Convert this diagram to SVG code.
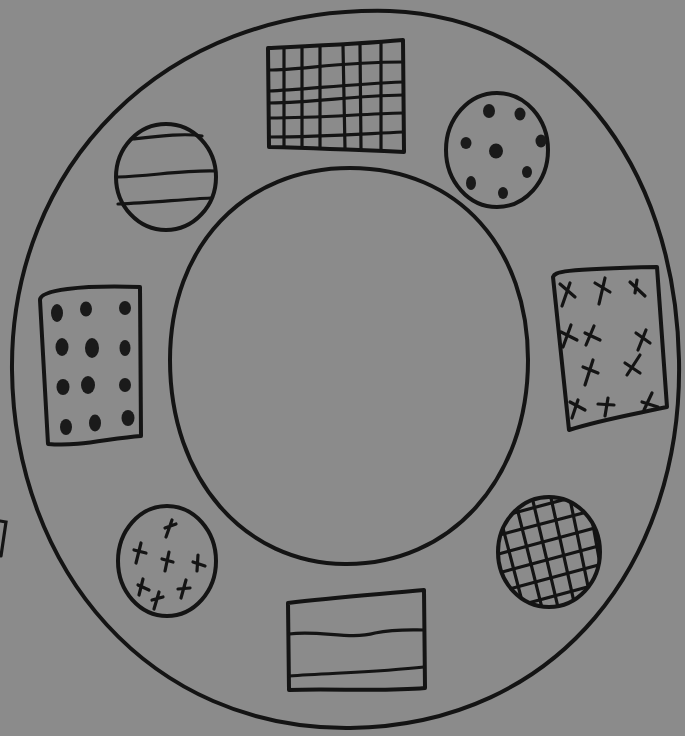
<svg xmlns="http://www.w3.org/2000/svg" width="685" height="736" viewBox="0 0 685 736">
<defs>
<style>
.s{fill:none;stroke:#141414;stroke-width:4;stroke-linecap:round;stroke-linejoin:round}
.t{fill:none;stroke:#141414;stroke-width:3.2;stroke-linecap:round}
.d{fill:#1a1a1a}
</style>
<clipPath id="cg"><ellipse cx="549" cy="552" rx="50" ry="54"/></clipPath>
</defs>
<rect width="685" height="736" fill="#8b8b8b"/>
<g id="ring">
<path class="s" d="M390,11 C560,18 675,160 679,360 C683,560 560,725 350,728 C150,730 14,570 12,370 C10,170 160,5 390,11 Z"/>
<path class="s" d="M350,168 C460,168 528,250 528,360 C528,480 450,565 345,564 C245,563 170,480 170,360 C170,245 245,168 350,168 Z"/>
</g>
<g id="grid-rect">
<path class="s" d="M268,48 C310,46 360,44 403,40 L404,152 C360,150 310,148 269,147 Z"/>
<path class="t" d="M284,49 L284,147 M302,48 L302,147 M320,47 L320,148 M343,46 L345,149 M360,45 L361,149 M381,43 L381,150"/>
<path class="t" d="M269,70 C300,70 340,62 403,62 M269,91 C300,90 350,84 403,82 M269,103 C320,102 350,96 403,95 M269,118 C320,118 360,114 403,113 M269,137 C320,137 360,134 403,132"/>
</g>
<g id="dot-circle">
<ellipse class="s" cx="497" cy="150" rx="51" ry="57"/>
<ellipse class="d" cx="489" cy="111" rx="6" ry="7"/>
<ellipse class="d" cx="520" cy="114" rx="5.5" ry="6.5"/>
<ellipse class="d" cx="466" cy="143" rx="5.5" ry="6"/>
<ellipse class="d" cx="496" cy="151" rx="7" ry="7.5"/>
<ellipse class="d" cx="541" cy="141" rx="5.5" ry="6.5"/>
<ellipse class="d" cx="527" cy="172" rx="5" ry="6"/>
<ellipse class="d" cx="471" cy="183" rx="5" ry="7"/>
<ellipse class="d" cx="503" cy="193" rx="5" ry="6"/>
</g>
<g id="stripe-circle">
<ellipse class="s" cx="166" cy="177" rx="50" ry="53"/>
<path class="t" d="M133,139 C160,136 185,133 202,136 M118,177 C150,176 185,170 215,171 M118,204 C150,203 185,199 211,198"/>
</g>
<g id="dot-rect">
<path class="s" d="M40,300 C40,290 80,285 140,287 L141,436 C110,438 80,447 48,444 Z"/>
<ellipse class="d" cx="57" cy="313" rx="6" ry="9"/>
<ellipse class="d" cx="86" cy="309" rx="6" ry="7.5"/>
<ellipse class="d" cx="125" cy="308" rx="6" ry="7"/>
<ellipse class="d" cx="62" cy="347" rx="6.5" ry="9"/>
<ellipse class="d" cx="92" cy="348" rx="7" ry="10"/>
<ellipse class="d" cx="125" cy="348" rx="5.5" ry="8"/>
<ellipse class="d" cx="63" cy="387" rx="6.5" ry="8"/>
<ellipse class="d" cx="88" cy="385" rx="7" ry="9"/>
<ellipse class="d" cx="125" cy="385" rx="6" ry="7"/>
<ellipse class="d" cx="66" cy="427" rx="6" ry="8"/>
<ellipse class="d" cx="95" cy="423" rx="6" ry="8.5"/>
<ellipse class="d" cx="128" cy="418" rx="6.5" ry="8"/>
</g>
<g id="cross-rect">
<path class="s" d="M553,277 C555,272 560,269 657,267 L667,407 C630,415 600,420 569,430 Z"/>
<path class="t" d="M560,284 L575,297 M570,283 L562,306 M595,283 L610,292 M605,278 L599,304 M630,282 L645,296 M637,280 L635,293 M561,332 L577,340 M571,325 L563,347 M585,333 L600,340 M594,326 L586,345 M636,333 L650,343 M646,330 L638,350 M583,367 L598,373 M593,360 L585,385 M625,363 L640,373 M640,355 L627,375 M570,402 L585,410 M578,400 L572,418 M598,404 L614,405 M608,398 L605,416 M642,402 L658,407 M652,393 L644,410"/>
</g>
<g id="cross-circle">
<ellipse class="s" cx="167" cy="561" rx="49" ry="55"/>
<path class="t" d="M165,528 L176,524 M172,520 L166,537 M134,550 L146,553 M141,543 L136,563 M162,559 L173,562 M169,552 L165,571 M193,562 L205,566 M198,555 L197,571 M138,585 L149,590 M143,579 L139,595 M178,589 L190,588 M186,580 L181,598 M152,600 L163,597 M159,592 L154,609"/>
</g>
<g id="hatch-circle">
<g clip-path="url(#cg)">
<path class="t" d="M480,522 L600,490 M480,540 L610,506 M480,559 L610,524 M480,578 L610,543 M480,597 L610,562 M480,616 L610,581 M500,625 L610,600"/>
<path class="t" d="M510,480 L545,620 M528,480 L561,620 M547,480 L578,620 M566,480 L595,620 M585,480 L610,620 M493,490 L527,620 M480,505 L510,620"/>
</g>
<ellipse class="s" cx="549" cy="552" rx="51" ry="55"/>
</g>
<g id="stripe-rect">
<path class="s" d="M288,603 C330,598 370,595 424,590 L425,688 C380,692 330,688 289,690 Z"/>
<path class="t" d="M289,634 C320,630 350,640 375,633 C395,629 410,630 424,630 M289,676 C330,673 380,672 424,667"/>
</g>
<g id="edge-mark">
<path class="t" d="M0,521 L6,522 L1,556"/>
</g>
</svg>
